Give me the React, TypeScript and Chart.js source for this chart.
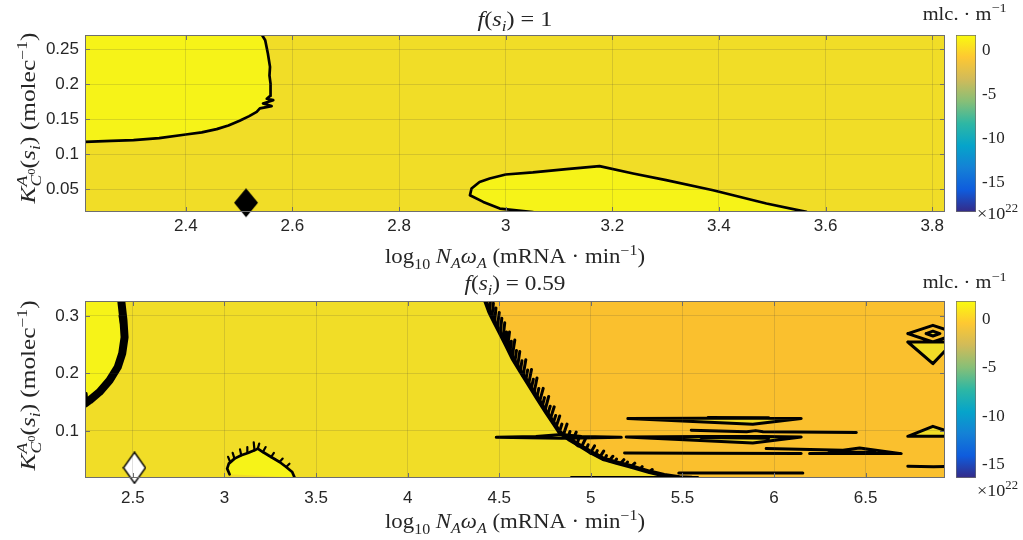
import React, { useEffect, useRef } from 'react';
import { Chart, registerables } from 'chart.js';

Chart.register(...registerables);

// ================= DATA : panel 1  (f(s_i) = 1) =================
const p1XTicks = [2.4, 2.6, 2.8, 3, 3.2, 3.4, 3.6, 3.8];
const p1YTicks = [0.05, 0.1, 0.15, 0.2, 0.25];
const p1XRange = [2.211, 3.824];
const p1YRange = [0.0175, 0.27];
const p1CbarRange = [-18.3, 1.7];
// contour bounding the upper-left high region
const p1BoundaryA = [
  [2.211, 0.1176], [2.26, 0.119], [2.302, 0.12], [2.35, 0.123], [2.4, 0.1281], [2.43, 0.131],
  [2.458, 0.1357], [2.48, 0.141], [2.501, 0.1476], [2.519, 0.1543], [2.533, 0.1604], [2.539, 0.1653],
  [2.561, 0.1686], [2.545, 0.1724], [2.564, 0.177], [2.552, 0.179], [2.558, 0.183], [2.559, 0.1905],
  [2.559, 0.2007], [2.557, 0.212], [2.558, 0.2245], [2.554, 0.2436], [2.549, 0.2626], [2.543, 0.27],
];
// closed loop at the bottom (high region)
const p1LoopB = [
  [3.051, 0.0175], [2.989, 0.0224], [2.958, 0.0319], [2.933, 0.0414], [2.936, 0.051], [2.951, 0.0604],
  [2.97, 0.0653], [3.0, 0.071], [3.051, 0.0739], [3.114, 0.0786], [3.176, 0.0829], [3.239, 0.0724],
  [3.301, 0.0629], [3.389, 0.0486], [3.489, 0.0296], [3.564, 0.0176],
];
const p1Marker = [[2.513, 0.0307]];

// ================= DATA : panel 2  (f(s_i) = 0.59) =================
const p2XTicks = [2.5, 3, 3.5, 4, 4.5, 5, 5.5, 6, 6.5];
const p2YTicks = [0.1, 0.2, 0.3];
const p2XRange = [2.239, 6.933];
const p2YRange = [0.0182, 0.326];
const p2CbarRange = [-16.4, 1.9];
const p2LeftBand = [
  [2.437, 0.326], [2.449, 0.2924], [2.455, 0.263], [2.442, 0.2345], [2.418, 0.2112], [2.373, 0.188],
  [2.318, 0.1677], [2.264, 0.1533], [2.238, 0.1476],
];
const p2LeftSpikes = [
  [[2.43, 0.3], [2.444, 0.276]], [[2.44, 0.25], [2.432, 0.226]], [[2.41, 0.206], [2.39, 0.19]],
  [[2.36, 0.182], [2.335, 0.169]], [[2.3, 0.163], [2.275, 0.152]], [[2.245, 0.165], [2.25, 0.148]],
];
const p2Bump = [
  [3.028, 0.0246], [3.015, 0.0345], [3.024, 0.0432], [3.055, 0.0519], [3.092, 0.0577], [3.128, 0.0617],
  [3.164, 0.0663], [3.182, 0.0693], [3.21, 0.0634], [3.255, 0.0547], [3.301, 0.046], [3.337, 0.0373],
  [3.37, 0.0286], [3.383, 0.0189],
];
const p2BumpSpikes = [
  [[3.03, 0.047], [3.02, 0.055]], [[3.055, 0.0519], [3.045, 0.062]], [[3.092, 0.0577], [3.085, 0.068]],
  [[3.128, 0.0617], [3.125, 0.072]], [[3.164, 0.0663], [3.16, 0.08]], [[3.182, 0.0693], [3.19, 0.078]],
  [[3.21, 0.0634], [3.225, 0.072]], [[3.255, 0.0547], [3.27, 0.062]], [[3.301, 0.046], [3.318, 0.052]],
  [[3.337, 0.0373], [3.355, 0.043]],
];
const p2Front = [
  [4.425, 0.326], [4.447, 0.307], [4.474, 0.2895], [4.502, 0.272], [4.54, 0.248], [4.574, 0.226],
  [4.62, 0.202], [4.665, 0.179], [4.71, 0.156], [4.756, 0.133], [4.8, 0.112], [4.829, 0.098],
  [4.88, 0.086], [4.938, 0.075], [5.0, 0.063], [5.065, 0.052], [5.14, 0.045], [5.211, 0.039],
  [5.32, 0.029], [5.4, 0.023], [5.484, 0.019], [5.55, 0.0182],
];
const p2FrontSpikes = [
  [[4.445, 0.309], [4.452, 0.326]], [[4.46, 0.298], [4.468, 0.322]], [[4.475, 0.29], [4.482, 0.314]],
  [[4.49, 0.28], [4.5, 0.306]], [[4.505, 0.27], [4.514, 0.296]], [[4.52, 0.26], [4.53, 0.288]],
  [[4.533, 0.252], [4.54, 0.272]], [[4.545, 0.245], [4.556, 0.272]], [[4.558, 0.237], [4.566, 0.256]],
  [[4.57, 0.228], [4.585, 0.258]], [[4.585, 0.22], [4.594, 0.24]], [[4.6, 0.212], [4.612, 0.238]],
  [[4.615, 0.204], [4.624, 0.222]], [[4.63, 0.196], [4.645, 0.224]], [[4.645, 0.189], [4.655, 0.206]],
  [[4.66, 0.181], [4.676, 0.207]], [[4.675, 0.174], [4.686, 0.19]], [[4.69, 0.166], [4.706, 0.192]],
  [[4.705, 0.158], [4.716, 0.174]], [[4.72, 0.151], [4.74, 0.174]], [[4.735, 0.143], [4.747, 0.158]],
  [[4.75, 0.136], [4.77, 0.16]], [[4.765, 0.129], [4.778, 0.143]], [[4.78, 0.122], [4.8, 0.142]],
  [[4.795, 0.114], [4.808, 0.127]], [[4.81, 0.107], [4.83, 0.126]], [[4.83, 0.1], [4.842, 0.112]],
  [[4.85, 0.093], [4.87, 0.112]], [[4.875, 0.088], [4.886, 0.099]], [[4.9, 0.083], [4.92, 0.098]],
  [[4.925, 0.078], [4.935, 0.087]], [[4.95, 0.073], [4.97, 0.086]], [[4.975, 0.068], [4.985, 0.076]],
  [[5.0, 0.063], [5.02, 0.074]], [[5.025, 0.059], [5.035, 0.066]], [[5.05, 0.055], [5.07, 0.065]],
  [[5.075, 0.051], [5.085, 0.057]], [[5.1, 0.048], [5.12, 0.056]], [[5.13, 0.046], [5.14, 0.051]],
  [[5.16, 0.043], [5.18, 0.05]], [[5.19, 0.041], [5.2, 0.046]], [[5.22, 0.038], [5.24, 0.044]],
  [[5.27, 0.034], [5.28, 0.038]], [[5.32, 0.029], [5.335, 0.033]],
  [[4.9, 0.083], [4.93, 0.074]], [[4.97, 0.07], [5.0, 0.061]], [[5.04, 0.058], [5.07, 0.05]],
];
const p2Streaks = [
  [[4.484, 0.0889], [4.7, 0.0905], [4.84, 0.094], [4.95, 0.0905], [5.166, 0.0889], [4.95, 0.0878], [4.84, 0.0872], [4.484, 0.0889]],
  [[5.202, 0.1215], [5.6, 0.1222], [5.95, 0.1222], [6.148, 0.1215], [5.884, 0.1116], [5.202, 0.1215]],
  [[5.64, 0.1232], [5.97, 0.123]],
  [[5.548, 0.1011], [5.85, 0.0988], [5.9, 0.1006], [5.94, 0.0988], [6.449, 0.0972]],
  [[5.193, 0.0895], [5.6, 0.0905], [5.95, 0.0902], [6.148, 0.0895], [5.884, 0.079], [5.193, 0.0895]],
  [[5.6, 0.0885], [5.97, 0.0875]],
  [[5.184, 0.0617], [5.6, 0.0614], [6.148, 0.0606]],
  [[5.957, 0.0693], [6.376, 0.0665], [6.467, 0.0704], [6.694, 0.0606], [6.194, 0.0606]],
  [[6.3, 0.0628], [6.55, 0.0632]],
  [[5.48, 0.0269], [6.157, 0.0269]],
  [[4.893, 0.0189], [5.584, 0.0192]],
  [[6.73, 0.2693], [6.867, 0.2837], [7.0, 0.2693], [6.867, 0.2547], [6.73, 0.2693]],
  [[6.83, 0.2693], [6.867, 0.2735], [6.905, 0.2693], [6.867, 0.2651], [6.83, 0.2693]],
  [[6.73, 0.2547], [6.98, 0.2547]],
  [[6.73, 0.2547], [6.867, 0.2171], [6.98, 0.255]],
  [[6.73, 0.0907], [6.867, 0.1081], [7.0, 0.094]],
  [[6.73, 0.0907], [7.0, 0.0907]],
  [[6.73, 0.0385], [6.87, 0.0378], [6.98, 0.0386]],
];
const p2YellowPockets = [
  [[4.484, 0.0889], [4.84, 0.094], [5.166, 0.0889], [4.84, 0.0872]],
  [[5.202, 0.1215], [6.148, 0.1215], [5.884, 0.1116]],
  [[5.193, 0.0895], [6.148, 0.0895], [5.884, 0.079]],
  [[6.73, 0.2547], [6.98, 0.2547], [6.867, 0.2171]],
  [[6.73, 0.0907], [6.867, 0.1081], [7.0, 0.094], [7.0, 0.0907]],
  [[6.845, 0.2693], [6.867, 0.2715], [6.89, 0.2693], [6.867, 0.2671]],
];
const p2BlackPockets = [
  [[6.845, 0.2535], [6.89, 0.2535], [6.867, 0.2465]],
  [[6.85, 0.0912], [6.885, 0.0912], [6.867, 0.0965]],
];
const p2Marker = [[2.509, 0.036]];

const cbarTicks = [0, -5, -10, -15];

// ================= STYLE =================
const TXT = '#262626';
const GRID = 'rgba(60,60,60,0.16)';
const BOX = '#6e6e6e';
const BASE_YELLOW = 'rgb(241,221,39)';
const BRIGHT_YELLOW = 'rgb(246,243,24)';
const ORANGE = 'rgb(250,192,46)';
const SERIF = '"Liberation Serif", serif';
const SANS = '"Liberation Sans", Arial, sans-serif';
const PARULA: [number, string][] = [
  [0, '#352A87'], [0.125, '#0F5CDD'], [0.25, '#1481D6'], [0.375, '#06A4CA'], [0.5, '#2EB7A4'],
  [0.625, '#87BF77'], [0.75, '#D1BB59'], [0.875, '#FEC832'], [1, '#F9FB0E'],
];

type Seg = { t: string; it?: boolean; sc?: number; dy?: number; na?: boolean };
const sub = (t: string, it = true): Seg => ({ t, it, sc: 0.7, dy: 0.25 });
const sup = (t: string, it = false): Seg => ({ t, it, sc: 0.7, dy: -0.42 });

const xLabelSegs: Seg[] = [
  { t: 'log' }, { t: '10', sc: 0.7, dy: 0.3 }, { t: ' ' }, { t: 'N', it: true }, sub('A'), { t: 'ω', it: true }, sub('A'),
  { t: ' (mRNA · min' }, sup('−1'), { t: ')' },
];
const yLabelSegs: Seg[] = [
  { t: 'K', it: true }, { t: 'A', it: true, sc: 0.7, dy: -0.42, na: true }, { t: 'C', it: true, sc: 0.7, dy: 0.3 },
  { t: '0', sc: 0.5, dy: 0.02 }, { t: '(' }, { t: 's', it: true }, sub('i'), { t: ') (molec' }, sup('−1'), { t: ')' },
];
const title1Segs: Seg[] = [{ t: 'f', it: true }, { t: '(' }, { t: 's', it: true }, sub('i'), { t: ') = 1' }];
const title2Segs: Seg[] = [{ t: 'f', it: true }, { t: '(' }, { t: 's', it: true }, sub('i'), { t: ') = 0.59' }];
const cbarTitleSegs: Seg[] = [{ t: 'mlc. · m' }, sup('−1')];
const cbarMultSegs: Seg[] = [{ t: '×10' }, sup('22')];

function drawMath(ctx: CanvasRenderingContext2D, segs: Seg[], o: any) {
  ctx.save();
  const fontOf = (s: Seg) => `${s.it ? 'italic ' : ''}${(o.size * (s.sc || 1)).toFixed(2)}px ${SERIF}`;
  let w = 0;
  segs.forEach((s) => {
    ctx.font = fontOf(s);
    if (!s.na) w += ctx.measureText(s.t).width;
  });
  const sx = o.width ? o.width / w : 1;
  ctx.translate(o.x, o.y);
  if (o.rot) ctx.rotate(-Math.PI / 2);
  ctx.scale(sx, o.sy || 1);
  let x0 = o.align === 'left' ? 0 : -w / 2;
  ctx.fillStyle = TXT;
  ctx.textBaseline = 'alphabetic';
  ctx.textAlign = 'left';
  segs.forEach((s) => {
    ctx.font = fontOf(s);
    ctx.fillText(s.t, x0, (s.dy || 0) * o.size);
    if (!s.na) x0 += ctx.measureText(s.t).width;
  });
  ctx.restore();
}

const pts = (arr: number[][]) => arr.map(([x, y]) => ({ x, y }));
const joinSegs = (segs: number[][][]) => {
  const out: any[] = [];
  segs.forEach((s, i) => {
    if (i) out.push({ x: s[0][0], y: null });
    out.push(...pts(s));
  });
  return out;
};
const region = (arr: number[][], color: string, order = 10) => ({
  data: pts(arr), fill: 'shape', backgroundColor: color, borderWidth: 0, pointRadius: 0, order,
});
const contour = (data: any[], width = 2.7, order = 2) => ({
  data, fill: false, borderColor: '#000', borderWidth: width, pointRadius: 0, order,
  borderJoinStyle: 'round', borderCapStyle: 'round', spanGaps: false,
});

function diamond(w: number, h: number, fill: string, stroke?: string) {
  const c = document.createElement('canvas');
  c.width = w + 2;
  c.height = h + 2;
  const g = c.getContext('2d')!;
  g.beginPath();
  g.moveTo(c.width / 2, 1);
  g.lineTo(c.width - 1, c.height / 2);
  g.lineTo(c.width / 2, c.height - 1);
  g.lineTo(1, c.height / 2);
  g.closePath();
  g.fillStyle = fill;
  g.fill();
  if (stroke) {
    g.lineWidth = 1.4;
    g.strokeStyle = stroke;
    g.stroke();
  }
  return c;
}

function decor(p: any) {
  return {
    id: 'decor',
    beforeDraw(chart: any) {
      const { ctx, chartArea: a } = chart;
      ctx.save();
      ctx.fillStyle = p.bg;
      ctx.fillRect(a.left, a.top, a.right - a.left, a.bottom - a.top);
      ctx.restore();
    },
    afterDraw(chart: any) {
      const { ctx, chartArea: a, scales } = chart;
      ctx.save();
      ctx.strokeStyle = BOX;
      ctx.lineWidth = 1;
      ctx.beginPath();
      p.xTicks.forEach((v: number) => {
        const x = Math.round(scales.x.getPixelForValue(v)) + 0.5;
        ctx.moveTo(x, a.bottom); ctx.lineTo(x, a.bottom - 5);
        ctx.moveTo(x, a.top); ctx.lineTo(x, a.top + 5);
      });
      p.yTicks.forEach((v: number) => {
        const y = Math.round(scales.y.getPixelForValue(v)) + 0.5;
        ctx.moveTo(a.left, y); ctx.lineTo(a.left + 5, y);
        ctx.moveTo(a.right, y); ctx.lineTo(a.right - 5, y);
      });
      ctx.stroke();
      ctx.strokeRect(a.left + 0.5, a.top + 0.5, a.right - a.left - 1, a.bottom - a.top - 1);
      ctx.restore();
      drawMath(ctx, p.titleSegs, p.title);
      drawMath(ctx, xLabelSegs, p.xLabel);
      drawMath(ctx, yLabelSegs, { ...p.yLabel, rot: true });
    },
  };
}

function mainConfig(p: any): any {
  return {
    type: 'line',
    data: { datasets: p.datasets },
    options: {
      animation: false,
      responsive: false,
      maintainAspectRatio: false,
      layout: { padding: { left: 0, right: 1023 - 945, top: p.top, bottom: 0 } },
      plugins: { legend: { display: false }, tooltip: { enabled: false }, title: { display: false } },
      elements: { point: { radius: 0 }, line: { tension: 0 } },
      scales: {
        x: {
          type: 'linear', min: p.xRange[0], max: p.xRange[1],
          afterFit: (s: any) => { s.height = 270 - p.bottom; },
          afterBuildTicks: (s: any) => { s.ticks = p.xTicks.map((v: number) => ({ value: v })); },
          grid: { color: GRID, z: 1, drawTicks: false },
          border: { display: false },
          ticks: { padding: p.xTickPad, autoSkip: false, maxRotation: 0, color: TXT, font: { family: SANS, size: 17 }, callback: (v: number) => String(v) },
        },
        y: {
          type: 'linear', min: p.yRange[0], max: p.yRange[1],
          afterFit: (s: any) => { s.width = 85; },
          afterBuildTicks: (s: any) => { s.ticks = p.yTicks.map((v: number) => ({ value: v })); },
          grid: { color: GRID, z: 1, drawTicks: false },
          border: { display: false },
          ticks: { padding: 6, autoSkip: false, color: TXT, font: { family: SANS, size: 17 }, callback: (v: number) => String(v) },
        },
      },
    },
    plugins: [decor(p)],
  };
}

function cbarConfig(range: number[], top: number, bottom: number, titleY: number, multY: number): any {
  return {
    type: 'bar',
    data: {
      labels: [''],
      datasets: [{
        data: [[range[0], range[1]]],
        backgroundColor: (c: any) => {
          const ch = c.chart;
          const a = ch.chartArea;
          if (!a) return null;
          const g = ch.ctx.createLinearGradient(0, a.bottom, 0, a.top);
          PARULA.forEach(([t, col]) => g.addColorStop(t, col));
          return g;
        },
        borderColor: BOX, borderWidth: 1, borderSkipped: false, barPercentage: 1, categoryPercentage: 1,
      }],
    },
    options: {
      animation: false,
      responsive: false,
      maintainAspectRatio: false,
      layout: { padding: { left: 956, right: 0, top, bottom: 270 - bottom } },
      plugins: { legend: { display: false }, tooltip: { enabled: false } },
      scales: {
        x: { display: false },
        y: {
          position: 'right', min: range[0], max: range[1],
          afterFit: (s: any) => { s.width = 1023 - 976; },
          afterBuildTicks: (s: any) => { s.ticks = cbarTicks.map((v) => ({ value: v })); },
          grid: { display: false, drawTicks: false }, border: { display: false },
          ticks: { padding: 6, color: TXT, font: { family: SERIF, size: 17 }, callback: (v: number) => String(v) },
        },
      },
    },
    plugins: [{
      id: 'cbarText',
      afterDraw(chart: any) {
        drawMath(chart.ctx, cbarTitleSegs, { x: 964.7, y: titleY, size: 18, width: 84 });
        drawMath(chart.ctx, cbarMultSegs, { x: 977, y: multY, size: 17, width: 41, align: 'left' });
      },
    }],
  };
}

export default function App() {
  const c1 = useRef<HTMLCanvasElement>(null);
  const c1b = useRef<HTMLCanvasElement>(null);
  const c2 = useRef<HTMLCanvasElement>(null);
  const c2b = useRef<HTMLCanvasElement>(null);

  useEffect(() => {
    const blackDiamond = diamond(24, 29, '#000');
    const whiteDiamond = diamond(22, 31, '#fff', '#000');

    const p1 = {
      xTicks: p1XTicks, yTicks: p1YTicks, xRange: p1XRange, yRange: p1YRange,
      top: 35, bottom: 212, xTickPad: 4, bg: BASE_YELLOW,
      titleSegs: title1Segs,
      title: { x: 515, y: 26, size: 20, width: 75 },
      xLabel: { x: 515, y: 263, size: 20, width: 260 },
      yLabel: { x: 35, y: 118, size: 20, width: 171 },
      datasets: [
        region([...p1BoundaryA, [p1XRange[0], p1YRange[1]]], BRIGHT_YELLOW),
        region(p1LoopB, BRIGHT_YELLOW),
        contour(pts(p1BoundaryA)),
        contour(pts(p1LoopB)),
        { data: pts(p1Marker), showLine: false, pointStyle: blackDiamond, pointRadius: 14, order: 0, clip: false },
      ],
    };
    const p2 = {
      xTicks: p2XTicks, yTicks: p2YTicks, xRange: p2XRange, yRange: p2YRange,
      top: 31, bottom: 208, xTickPad: 10, bg: BASE_YELLOW,
      titleSegs: title2Segs,
      title: { x: 515, y: 20, size: 20, width: 101 },
      xLabel: { x: 515, y: 258, size: 20, width: 260 },
      yLabel: { x: 35, y: 115.4, size: 20, width: 170 },
      datasets: [
        region([[p2Front[0][0], 0.4], ...p2Front, [7.2, 0.0], [7.2, 0.4]], ORANGE, 12),
        region([...p2LeftBand, [p2XRange[0], p2YRange[1]]], BRIGHT_YELLOW),
        region(p2Bump, BRIGHT_YELLOW),
        ...p2YellowPockets.map((r) => region(r, BASE_YELLOW, 9)),
        ...p2BlackPockets.map((r) => region(r, '#000', 9)),
        contour(pts(p2LeftBand), 8),
        contour(joinSegs(p2LeftSpikes), 3),
        contour(pts(p2Bump)),
        contour(joinSegs(p2BumpSpikes), 2.2),
        contour(pts(p2Front), 4.5),
        contour(joinSegs(p2FrontSpikes), 3),
        contour(joinSegs(p2Streaks), 3),
        { data: pts(p2Marker), showLine: false, pointStyle: whiteDiamond, pointRadius: 14, order: 0, clip: false },
      ],
    };

    const charts = [
      new Chart(c1.current!, mainConfig(p1)),
      new Chart(c1b.current!, cbarConfig(p1CbarRange, 35, 212, 20, 219)),
      new Chart(c2.current!, mainConfig(p2)),
      new Chart(c2b.current!, cbarConfig(p2CbarRange, 31, 208, 18.3, 226)),
    ];
    return () => charts.forEach((c) => c.destroy());
  }, []);

  const cv = (top: number): React.CSSProperties => ({ position: 'absolute', left: 0, top, width: 1023, height: 270 });
  return (
    <div style={{ position: 'absolute', left: 0, top: 0, width: 1023, height: 540, background: '#fff' }}>
      <canvas ref={c1} width={1023} height={270} style={cv(0)} />
      <canvas ref={c1b} width={1023} height={270} style={cv(0)} />
      <canvas ref={c2} width={1023} height={270} style={cv(270)} />
      <canvas ref={c2b} width={1023} height={270} style={cv(270)} />
    </div>
  );
}
